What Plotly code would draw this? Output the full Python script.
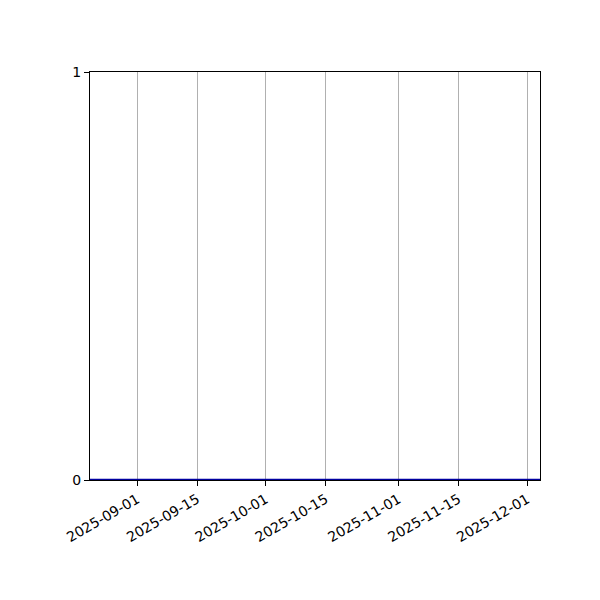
import plotly.graph_objects as go

dates = ["2025-08-21", "2025-12-04"]
values = [0, 0]
tick_dates = ["2025-09-01", "2025-09-15", "2025-10-01", "2025-10-15",
              "2025-11-01", "2025-11-15", "2025-12-01"]
y_ticks = [0, 1]

fig = go.Figure()
fig.add_trace(go.Scatter(
    x=dates,
    y=values,
    mode="lines",
    line=dict(color="#0000a0", width=2.5),
    cliponaxis=False,
    showlegend=False
))

fig.update_layout(
    width=600,
    height=600,
    margin=dict(l=82, r=68, t=64, b=128),
    plot_bgcolor="white",
    paper_bgcolor="white",
    font=dict(family="DejaVu Sans", size=14, color="black"),
)
fig.update_xaxes(
    range=["2025-08-21", "2025-12-04"],
    tickvals=tick_dates,
    ticktext=tick_dates,
    tickangle=-30,
    showgrid=True,
    gridcolor="#b0b0b0",
    gridwidth=1,
    showline=True,
    linecolor="black",
    linewidth=1,
    mirror=True,
    ticks="outside",
    ticklen=5,
    tickcolor="black",
    zeroline=False,
    layer="below traces",
)
fig.update_yaxes(
    range=[0, 1],
    tickvals=y_ticks,
    showgrid=False,
    showline=True,
    linecolor="black",
    linewidth=1,
    mirror=True,
    ticks="outside",
    ticklen=5,
    tickcolor="black",
    zeroline=False,
    layer="below traces",
)

fig.write_html("out.html")
